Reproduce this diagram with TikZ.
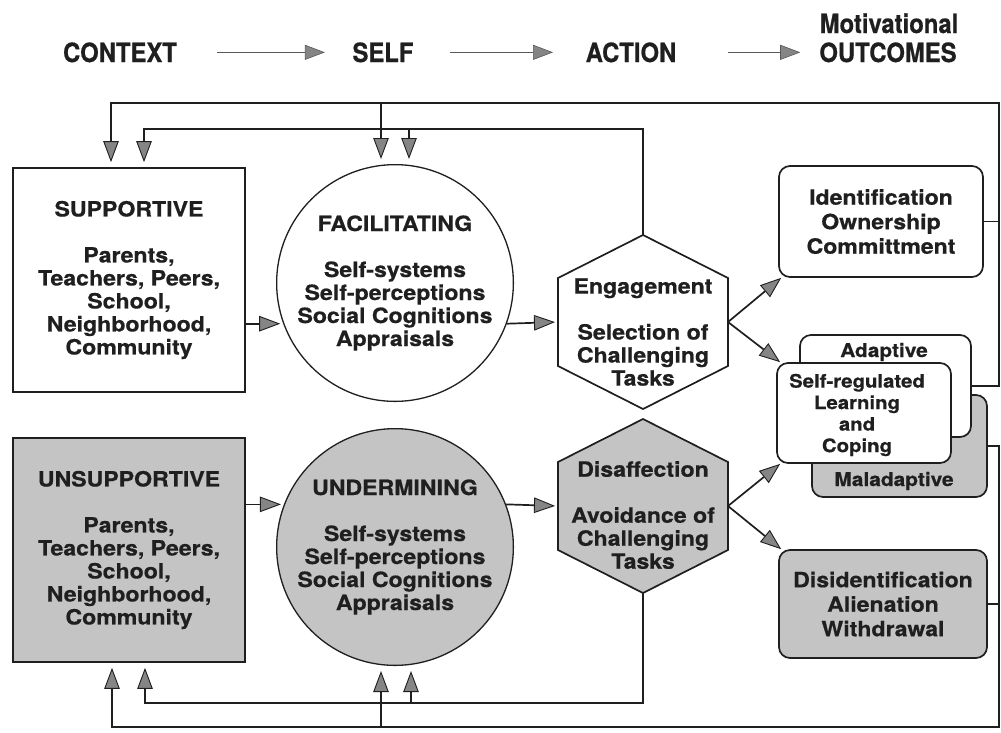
\documentclass[tikz,border=0pt]{standalone}
\usepackage{fontspec}
\setmainfont{TeX Gyre Heros}[FakeStretch=1.1, BoldFeatures={FakeBold=0.6}]
\newfontfamily\headfont{TeX Gyre Heros}[FakeStretch=0.9, BoldFeatures={FakeBold=0.6}]
\usetikzlibrary{arrows.meta,calc}

\definecolor{ink}{gray}{0.12}
\definecolor{shade}{gray}{0.77}
\definecolor{tipfill}{gray}{0.52}
\definecolor{hdrline}{gray}{0.35}

\newcommand\bodytext{\fontsize{21}{23}\selectfont\bfseries}
\newcommand\outtext{\fontsize{21}{24.5}\selectfont\bfseries}
\newcommand\smalltext{\fontsize{18.5}{21.5}\selectfont\bfseries}
\newcommand\midtext{\fontsize{19}{22}\selectfont\bfseries}
\newcommand\headtext{\headfont\fontsize{26.5}{29}\selectfont\bfseries}

\tikzset{
  gtip/.tip={Triangle[length=21pt,width=15.5pt,fill=tipfill,line width=0.9pt]},
  edgeline/.style={draw=ink,line width=1.7pt},
  plainbox/.style={edgeline,fill=white,minimum width=232pt,minimum height=224pt,
    inner sep=0pt,align=center,text=ink,font=\bodytext},
  shadebox/.style={plainbox,fill=shade},
  selfcircle/.style={edgeline,line width=1.3pt,circle,minimum size=230pt,inner sep=0pt,
    align=center,text=ink,font=\bodytext},
  outcome/.style={edgeline,rounded corners=11pt,inner sep=0pt,align=center,text=ink,font=\outtext},
  hextext/.style={inner sep=0pt,align=center,text=ink,font=\bodytext},
  wire/.style={draw=ink,line width=1.7pt},
  flow/.style={wire,-gtip,shorten >=3pt},
  loopin/.style={wire,-gtip,shorten >=5pt},
  header/.style={inner sep=0pt,anchor=base,text=ink,font=\headtext},
  headarrow/.style={draw=hdrline,line width=1.6pt,
    -{Triangle[length=20pt,width=15pt,fill=tipfill,line width=0.6pt]}},
  hexa/.pic={
    \path[pic actions] (-85,-44) -- (0,-87) -- (85,-44) -- (85,44) -- (0,87) -- (-85,44) -- cycle;
    \coordinate (-n) at (0,-87);
    \coordinate (-s) at (0,87);
    \coordinate (-w) at (-85,0);
    \coordinate (-e) at (85,0);
  }
}

\begin{document}
\begin{tikzpicture}[x=1pt,y=-1pt]
\fill[white] (0,0) rectangle (1001,732);
\useasboundingbox (0,0) rectangle (1001,732);

% column headings
\node[header] (hctx)  at (120,62) {CONTEXT};
\node[header] (hself) at (383,62) {SELF};
\node[header] (hact)  at (631,62) {ACTION};
\node[header] (hmot)  at (889,33) {Motivational};
\node[header] (hout)  at (888,62) {OUTCOMES};
\draw[headarrow, shorten <=40pt, shorten >=27.5pt] (hctx.east) -- (hself.west);
\draw[headarrow, shorten <=36.5pt, shorten >=32.5pt] (hself.east) -- (hact.west);
\draw[headarrow, shorten <=51.5pt, shorten >=19pt] (hact.east) -- (hout.west);

% context
\node[plainbox] (supp) at (129,280)
  {SUPPORTIVE\\[23pt]Parents,\\Teachers, Peers,\\School,\\Neighborhood,\\Community};
\node[shadebox] (uns) at (129,550)
  {UNSUPPORTIVE\\[23pt]Parents,\\Teachers, Peers,\\School,\\Neighborhood,\\Community};

% self
\node[selfcircle, fill=white] (fac) at (395,283)
  {FACILITATING\\[23pt]Self-systems\\Self-perceptions\\Social Cognitions\\Appraisals};
\node[selfcircle, fill=shade] (und) at (395,547)
  {UNDERMINING\\[23pt]Self-systems\\Self-perceptions\\Social Cognitions\\Appraisals};

% action
\pic[draw=ink, line width=1.7pt, fill=white] (hA) at (643,322) {hexa};
\pic[draw=ink, line width=1.7pt, fill=shade] (hB) at (643,506) {hexa};
\node[hextext] (hAtext) at (643,332) {Engagement\\[23pt]Selection of\\Challenging\\Tasks};
\node[hextext] (hBtext) at (643,515) {Disaffection\\[23pt]Avoidance of\\Challenging\\Tasks};

% motivational outcomes
\node[outcome, fill=white, minimum width=204pt, minimum height=111pt] (ident) at (881,221.5)
  {Identification\\Ownership\\Committment};
\node[outcome, fill=shade, minimum width=175pt, minimum height=102pt] (malad) at (899.5,446) {};
\node[hextext, font=\midtext] (maltext) at (894,481) {Maladaptive};
\node[outcome, fill=white, minimum width=171pt, minimum height=102pt] (adapt) at (885.5,386) {};
\node[hextext, font=\midtext] (adtext) at (884,352) {Adaptive};
\node[outcome, fill=white, minimum width=174pt, minimum height=100pt] (selfreg) at (864,413) {};
\node[hextext, font=\smalltext] (srtext) at (857,415) {Self-regulated\\Learning\\and\\Coping};
\node[outcome, fill=shade, minimum width=208pt, minimum height=108pt] (disid) at (883,604)
  {Disidentification\\Alienation\\Withdrawal};

% forward flow
\draw[flow] (supp.east |- fac.200) -- (fac.200);
\draw[flow] (fac.340) -- (hA-w);
\draw[flow] (uns.east |- und.159) -- (und.159);
\draw[flow] (und.21) -- (hB-w);
\draw[flow, shorten >=0pt] (hA-e) -- ([xshift=3pt]ident.south west);
\draw[flow, shorten >=0pt] (hA-e) -- ([xshift=4pt]selfreg.north west);
\draw[flow, shorten >=0pt] (hB-e) -- ([xshift=4pt]selfreg.south west);
\draw[flow, shorten >=0pt] (hB-e) -- ([xshift=3pt]disid.north west);

% feedback loops
\coordinate (R1) at (999,103);
\coordinate (R2) at (999,727);
\coordinate (sA) at ($(supp.north)+(-18,0)$);
\coordinate (sB) at ($(supp.north)+(15,0)$);
\coordinate (fA) at ($(fac.north)+(-14,0)$);
\coordinate (fB) at ($(fac.north)+(14,0)$);
\coordinate (uA) at ($(uns.south)+(-17,0)$);
\coordinate (uB) at ($(uns.south)+(16,0)$);
\coordinate (dA) at ($(und.south)+(-14,0)$);
\coordinate (dB) at ($(und.south)+(16,0)$);
\coordinate (I1) at ($(hA-n)+(0,-106)$);
\coordinate (I2) at ($(hB-s)+(0,110)$);

\draw[wire] (ident.east) -- (ident.east -| R1);
\draw[loopin] (adapt.east) -| (R1) -| (sA);
\draw[loopin] (R1 -| fA) -- (fA);
\draw[loopin] (hA-n) -- (I1) -| (sB);
\draw[loopin] (I1 -| fB) -- (fB);

\draw[wire] (disid.east) -- (disid.east -| R2);
\draw[loopin] (malad.east) -| (R2) -| (uA);
\draw[loopin] (R2 -| dA) -- (dA);
\draw[loopin] (hB-s) -- (I2) -| (uB);
\draw[loopin] (I2 -| dB) -- (dB);
\end{tikzpicture}
\end{document}
